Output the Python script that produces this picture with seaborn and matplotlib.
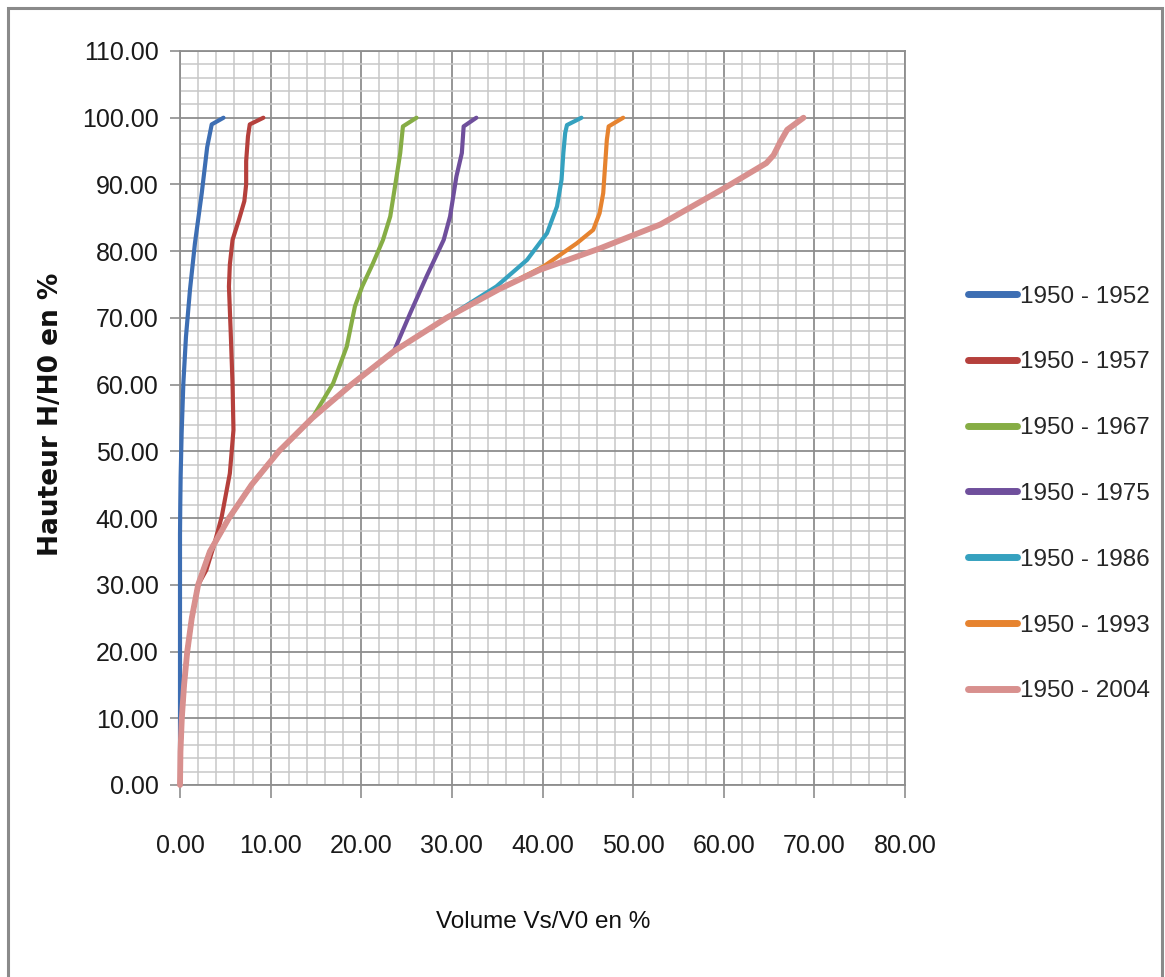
import numpy as np
import pandas as pd
import matplotlib
matplotlib.use("Agg")
import matplotlib.pyplot as plt
import seaborn as sns
from matplotlib.lines import Line2D
from matplotlib.patches import Rectangle

# Courbes hauteur-volume de la retenue (Vs/V0 en % en fonction de H/H0 en %)
series_labels = ["1950 - 1952", "1950 - 1957", "1950 - 1967", "1950 - 1975",
                 "1950 - 1986", "1950 - 1993", "1950 - 2004"]
series_colors = ["#3d6eb3", "#b5403c", "#86ad45", "#6f4f9c",
                 "#35a1bf", "#e6832f", "#d8908e"]

# Partie basse commune aux levés récents
base_h = [0.0, 5.0, 10.0, 15.0, 20.0, 25.0, 30.0, 35.0, 40.0, 45.0, 50.0,
          55.0, 60.0, 65.0, 70.0, 74.3]
base_v = [0.0, 0.05, 0.2, 0.45, 0.8, 1.3, 2.0, 3.3, 5.4, 7.9, 10.9,
          14.6, 18.9, 23.6, 29.4, 35.2]

v_1952 = [0.0, 0.0, 0.0, 0.0, 0.0, 0.03, 0.07, 0.18, 0.37, 0.66, 1.1, 1.65,
          2.4, 3.0, 3.5, 4.8]
h_1952 = [0.0, 10.0, 20.0, 28.5, 37.5, 42.0, 46.2, 52.7, 60.2, 67.2, 74.2, 81.2,
          88.7, 95.6, 99.0, 100.0]

v_1957 = base_v[:7] + [2.9, 3.7, 4.6, 5.5, 5.9, 5.8, 5.6, 5.4, 5.5, 5.8, 6.5,
                       7.1, 7.3, 7.3, 7.5, 7.7, 9.2]
h_1957 = base_h[:7] + [32.2, 35.7, 40.2, 46.7, 53.2, 60.0, 67.7, 74.7, 78.0, 81.7, 84.7,
                       87.5, 90.0, 93.5, 97.2, 99.0, 100.0]

v_1967 = base_v[:12] + [16.9, 18.4, 19.3, 20.1, 21.3, 22.4, 23.2, 23.9, 24.3, 24.6, 26.1]
h_1967 = base_h[:12] + [60.2, 65.7, 71.7, 74.7, 78.2, 81.7, 85.2, 91.2, 94.7, 98.7, 100.0]

v_1975 = base_v[:14] + [25.4, 27.2, 29.1, 29.8, 30.5, 31.1, 31.3, 32.7]
h_1975 = base_h[:14] + [70.7, 76.2, 81.7, 85.2, 91.2, 94.7, 98.7, 100.0]

v_1986 = base_v[:15] + [34.9, 38.3, 40.5, 41.6, 42.1, 42.3, 42.5, 42.7, 44.3]
h_1986 = base_h[:15] + [74.7, 78.7, 82.7, 86.7, 90.7, 94.7, 97.7, 98.9, 100.0]

v_1993 = base_v + [40.1, 43.8, 45.6, 46.3, 46.7, 46.9, 47.1, 47.3, 48.9]
h_1993 = base_h + [77.7, 81.2, 83.2, 85.7, 88.7, 92.7, 96.7, 98.7, 100.0]

v_2004 = base_v + [39.7, 46.3, 53.0, 60.0, 64.7, 65.5, 66.2, 67.0, 68.8]
h_2004 = base_h + [77.2, 80.4, 84.0, 89.4, 93.2, 94.4, 96.3, 98.2, 100.0]

volumes = [v_1952, v_1957, v_1967, v_1975, v_1986, v_1993, v_2004]
heights = [h_1952, h_1957, h_1967, h_1975, h_1986, h_1993, h_2004]

x_ticks = np.arange(0, 81, 10)
y_ticks = np.arange(0, 111, 10)

sns.set_theme(style="white")
plt.rcParams["font.family"] = ["Liberation Sans", "DejaVu Sans"]

fig = plt.figure(figsize=(11.65, 9.77), dpi=100)
ax = fig.add_axes([180 / 1165, 1 - 785 / 977, 725 / 1165, 734 / 977])

for lab, col, v, h in zip(series_labels, series_colors, volumes, heights):
    df = pd.DataFrame({"Volume": v, "Hauteur": h})
    lw = 4.2 if lab.endswith("2004") else 3.0
    sns.lineplot(data=df, x="Volume", y="Hauteur", sort=False, estimator=None,
                 color=col, linewidth=lw, ax=ax, clip_on=False, zorder=3)

ax.set_xlim(0, 80)
ax.set_ylim(0, 110)
ax.set_xticks(x_ticks)
ax.set_yticks(y_ticks)
ax.set_xticks(np.arange(0, 81, 2), minor=True)
ax.set_yticks(np.arange(0, 111, 2), minor=True)
ax.set_xticklabels([f"{t:.2f}" for t in x_ticks])
ax.set_yticklabels([f"{t:.2f}" for t in y_ticks])

ax.grid(which="minor", color="#c8c8c8", linewidth=1.1, zorder=0)
ax.grid(which="major", color="#8e8e8e", linewidth=1.3, zorder=1)
ax.set_axisbelow(True)

for s in ax.spines.values():
    s.set_color("#8e8e8e")
    s.set_linewidth(1.3)

ax.tick_params(axis="x", which="major", direction="out", length=9, width=1.2,
               color="#8e8e8e", pad=26, labelsize=18, labelcolor="#1a1a1a",
               bottom=True)
ax.tick_params(axis="y", which="major", direction="out", length=7.5, width=1.2,
               color="#8e8e8e", pad=8, labelsize=18, labelcolor="#1a1a1a",
               left=True)
ax.tick_params(which="minor", length=0)

ax.set_xlabel("Volume Vs/V0 en %", fontsize=17.5, color="#111111")
ax.xaxis.set_label_coords(0.5007, (785 - 911) / 734)
ax.set_ylabel("Hauteur H/H0 en %", fontsize=19, fontweight="bold",
              color="#111111", family="DejaVu Sans")
ax.yaxis.set_label_coords((64 - 180) / 725, (785 - 414) / 734)

handles = [Line2D([0], [0], color=c, lw=5, solid_capstyle="round") for c in series_colors]
fig.legend(handles, series_labels, loc="center left",
           bbox_to_anchor=(968 / 1165, 1 - 494 / 977), frameon=False,
           fontsize=17.5, handlelength=2.0, handletextpad=0.15,
           labelspacing=1.8, borderpad=0, borderaxespad=0)

# Cadre du graphique
fig.patches.append(Rectangle((8 / 1165, -0.02), 1154 / 1165, 1 - 8 / 977 + 0.02,
                             transform=fig.transFigure, fill=False,
                             edgecolor="#8a8a8a", linewidth=2.2, zorder=0))

fig.savefig("out.png", dpi=100, facecolor="white")
